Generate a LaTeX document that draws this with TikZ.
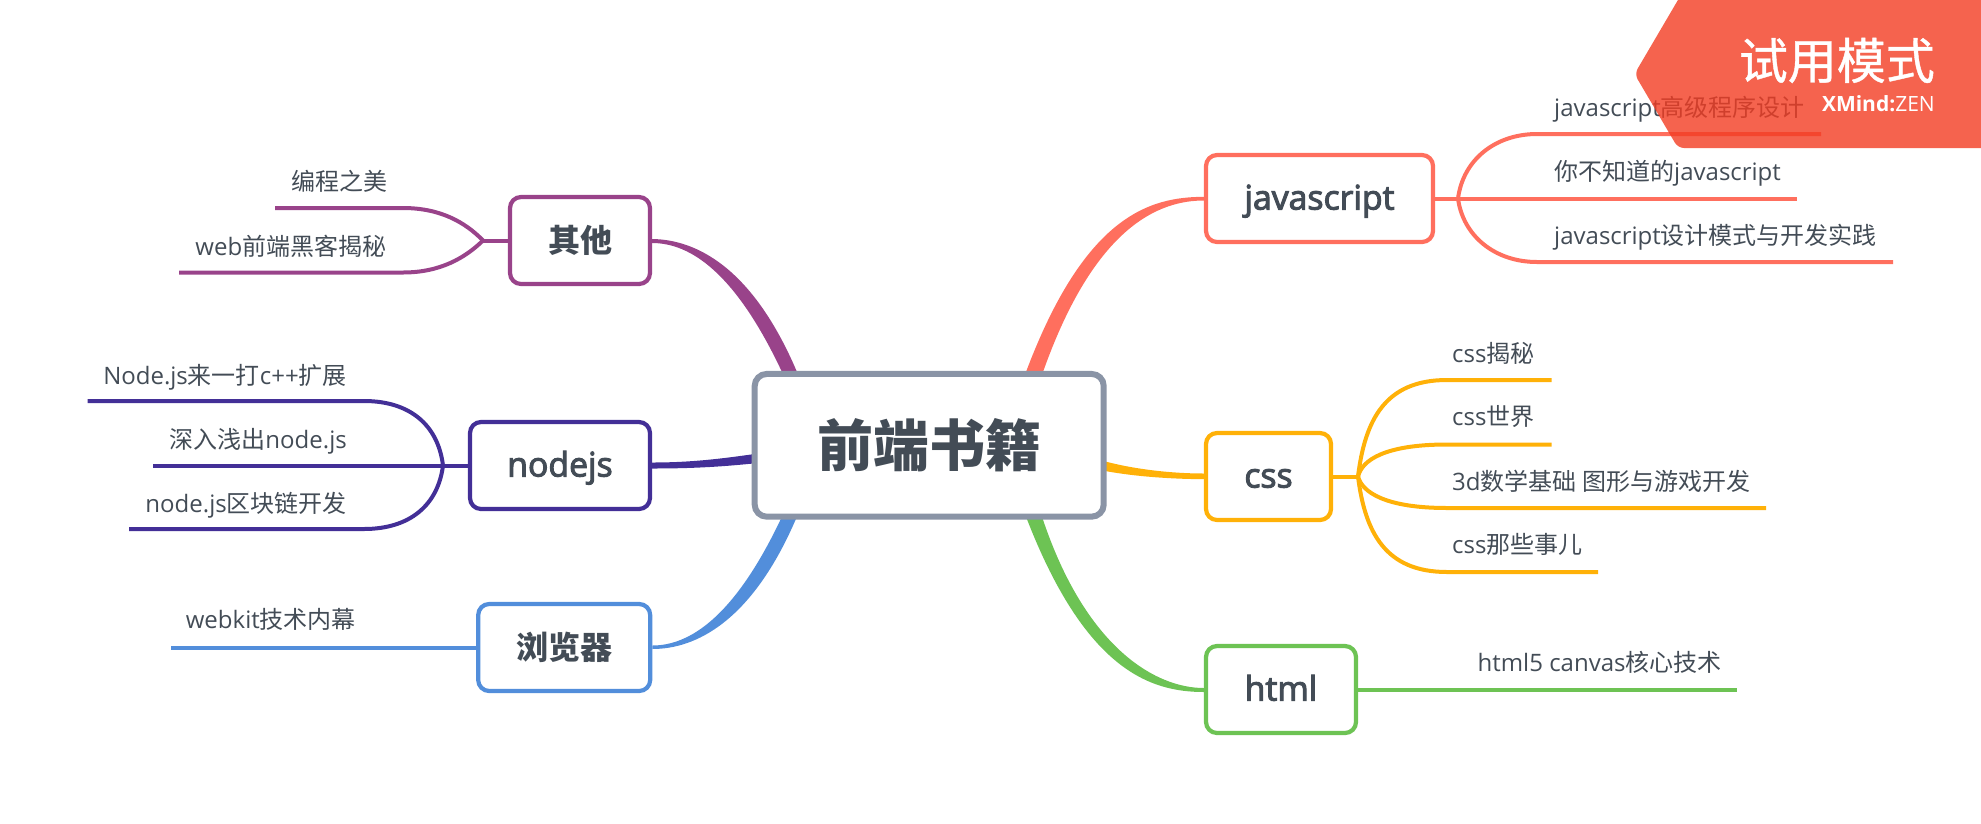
\documentclass[tikz,border=0pt]{standalone}
\usepackage{fontspec}
\setmainfont{Open Sans}
\newfontfamily\cjk{Noto Sans CJK SC}
\newfontfamily\cjkfat[FakeBold=0.8]{Noto Sans CJK SC}
\newfontfamily\latsemi[FakeBold=3,Scale=1.055]{Open Sans}
\usetikzlibrary{backgrounds}
\definecolor{cjs}{HTML}{FF6F5E}
\definecolor{ccss}{HTML}{FFB108}
\definecolor{chtml}{HTML}{6DC354}
\definecolor{coth}{HTML}{99438A}
\definecolor{cnode}{HTML}{432F97}
\definecolor{cbro}{HTML}{528EDB}
\definecolor{croot}{HTML}{8A94A6}
\definecolor{ctext}{HTML}{434C56}
\definecolor{cbadge}{HTML}{F23C22}
\tikzset{
 topic/.style={draw=#1,fill=white,line width=4.2pt,rounded corners=11pt,inner sep=0pt,text=ctext,
   minimum height=87pt,font=\fontsize{32}{36}\selectfont},
 lat/.style={text height=27pt,text depth=5pt},
 leafr/.style={anchor=base west,inner sep=0pt,text=ctext,font=\fontsize{24}{28}\selectfont},
 leafl/.style={anchor=base east,inner sep=0pt,text=ctext,font=\fontsize{24}{28}\selectfont},
 wire/.style={draw=#1,line width=4pt,line cap=butt},
}
\begin{document}
\begin{tikzpicture}[x=1pt,y=-1pt]
\useasboundingbox (0,0) rectangle (1981,823);
% topics
\node[draw=croot,fill=white,line width=6pt,rounded corners=12pt,inner sep=0pt,minimum width=349pt,minimum height=142.7pt,text=ctext,font=\fontsize{56}{60}\selectfont] (root) at (929.2,445.3) {\cjk\bfseries 前端书籍};
\node[topic=cjs,lat,minimum width=227pt] (js) at (1319.5,198.5) {\latsemi javascript};
\node[topic=ccss,lat,minimum width=125pt] (css) at (1268.5,476.5) {\latsemi css};
\node[topic=chtml,lat,minimum width=150pt] (html) at (1281,689.5) {\latsemi html};
\node[topic=coth,minimum width=140pt] (oth) at (580,240.5) {\cjk\bfseries 其他};
\node[topic=cnode,lat,minimum width=180pt] (nodejs) at (560,465.5) {\latsemi nodejs};
\node[topic=cbro,minimum width=172pt] (bro) at (564.2,647.5) {\cjk\bfseries 浏览器};
% leaf labels
\node[leafr] (j1) at (1554,116) {javascript{\cjk 高级程序设计}};
\node[leafr] (j2) at (1554,180.5) {{\cjk 你不知道的}javascript};
\node[leafr] (j3) at (1554,244.5) {javascript{\cjk 设计模式与开发实践}};
\node[leafr] (c1) at (1452,362.5) {css{\cjk 揭秘}};
\node[leafr] (c2) at (1452,425.5) {css{\cjk 世界}};
\node[leafr] (c3) at (1452,490) {3d{\cjk 数学基础} {\cjk 图形与游戏开发}};
\node[leafr] (c4) at (1452,553) {css{\cjk 那些事儿}};
\node[leafr] (h1) at (1477.5,671.5) {html5 canvas{\cjk 核心技术}};
\node[leafl] (o1) at (388,190.5) {\cjk 编程之美};
\node[leafl] (o2) at (386.5,255) {web{\cjk 前端黑客揭秘}};
\node[leafl] (n1) at (347,384.5) {Node.js{\cjk 来一打}c++{\cjk 扩展}};
\node[leafl] (n2) at (347,448.5) {{\cjk 深入浅出}node.js};
\node[leafl] (n3) at (347,512.5) {node.js{\cjk 区块链开发}};
\node[leafl] (b1) at (356,628.5) {webkit{\cjk 技术内幕}};
% junctions and free ends
\coordinate (jj) at (1458,198.5);
\coordinate (ja1) at (1821,134); \coordinate (ja2) at (1797,198.5); \coordinate (ja3) at (1893,262);
\coordinate (cj) at (1358,476.5);
\coordinate (ca1) at (1551.5,380); \coordinate (ca2) at (1551.5,444.5); \coordinate (ca3) at (1766,508); \coordinate (ca4) at (1598,572);
\coordinate (ha1) at (1737,689.5);
\coordinate (oj) at (483,240.5);
\coordinate (oa1) at (275,208); \coordinate (oa2) at (179,272.5);
\coordinate (nj) at (443,465.5);
\coordinate (na1) at (87.5,401); \coordinate (na2) at (153,465.5); \coordinate (na3) at (129,529);
\coordinate (ba1) at (170.5,647.5);
\begin{scope}[on background layer]
% tapered main branches
\fill[cjs] ([yshift=1.7pt]js.west) .. controls (1150,197) and (1085,215) .. (1026,372) -- (1025,380) -- (1042,380) -- (1043,372) .. controls (1095,225) and (1160,200.5) .. ([yshift=-2pt]js.west) -- cycle;
\fill[ccss] ([yshift=3pt]css.west) .. controls (1175,473.5) and (1135,470) .. (1100,460) -- (1100,470) .. controls (1135,477) and (1175,479) .. ([yshift=-2.7pt]css.west) -- cycle;
\fill[chtml] ([yshift=-2.5pt]html.west) .. controls (1150,692) and (1085,670) .. (1026,516.7) -- (1042,516.7) .. controls (1085,647) and (1155,688) .. ([yshift=1.5pt]html.west) -- cycle;
\fill[coth] ([yshift=1.5pt]oth.east) .. controls (695,239.5) and (752,266) .. (797,372) -- (799,380) -- (783,380) -- (782,372) .. controls (735,272) and (690,243) .. ([yshift=-2.5pt]oth.east) -- cycle;
\fill[cnode] ([yshift=3pt]nodejs.east) .. controls (690,462.5) and (720,459) .. (758,453.5) -- (758,463) .. controls (720,467) and (690,468.5) .. ([yshift=-3pt]nodejs.east) -- cycle;
\fill[cbro] ([yshift=-1.5pt]bro.east) .. controls (695,649) and (752,622.5) .. (797,516.5) -- (782,516.5) .. controls (735,616.5) and (690,645.5) .. ([yshift=2pt]bro.east) -- cycle;
% children js
\draw[wire=cjs] (js.east) -- (jj) -- (ja2);
\draw[wire=cjs] (jj) .. controls (1463,160) and (1495,134) .. (1537,134) -- (ja1);
\draw[wire=cjs] (jj) .. controls (1463,236) and (1495,262) .. (1537,262) -- (ja3);
% children css
\draw[wire=ccss] (css.east) -- (cj);
\draw[wire=ccss] (cj) .. controls (1365,420) and (1385,380) .. (1447,380) -- (ca1);
\draw[wire=ccss] (cj) .. controls (1362,460) and (1385,444.5) .. (1447,444.5) -- (ca2);
\draw[wire=ccss] (cj) .. controls (1362,492) and (1385,508) .. (1447,508) -- (ca3);
\draw[wire=ccss] (cj) .. controls (1365,532) and (1385,572) .. (1447,572) -- (ca4);
% html
\draw[wire=chtml] (html.east) -- (ha1);
% other
\draw[wire=coth] (oth.west) -- (oj);
\draw[wire=coth] (oj) .. controls (465,222) and (440,208) .. (403,208) -- (oa1);
\draw[wire=coth] (oj) .. controls (465,258) and (440,272.5) .. (403,272.5) -- (oa2);
% nodejs
\draw[wire=cnode] (nodejs.west) -- (nj) -- (na2);
\draw[wire=cnode] (nj) .. controls (438,425) and (410,401) .. (364,401) -- (na1);
\draw[wire=cnode] (nj) .. controls (438,505) and (410,529) .. (364,529) -- (na3);
% browser
\draw[wire=cbro] (bro.west) -- (ba1);
\end{scope}
% badge
\path[fill=cbadge,fill opacity=0.8,rounded corners=6pt] (1685,-12) -- (1634.5,74) -- (1678,148) -- (1981,148) -- (1991,148) -- (1991,-12) -- cycle;
\node[anchor=base east,inner sep=0pt,text=white,font=\fontsize{49}{54}\selectfont] (bt) at (1935,79) {\cjkfat 试用模式};
\node[anchor=base east,inner sep=0pt,text=white,font=\fontsize{21}{24}\selectfont] (bx) at (1935,111) {\textbf{XMind:}ZEN};
\end{tikzpicture}
\end{document}
